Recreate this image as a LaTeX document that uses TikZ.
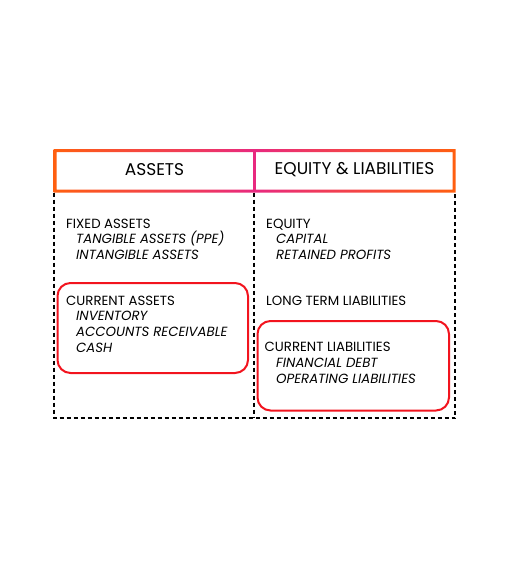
\documentclass[tikz,border=0pt]{standalone}
\usepackage{fontspec}
\setmainfont{Poppins}
\usetikzlibrary{positioning}
\definecolor{headorange}{HTML}{FF5F0F}
\definecolor{headpink}{HTML}{E8297F}
\definecolor{boxred}{HTML}{F2141E}
\tikzset{head text/.style={font=\fontsize{17}{19}\selectfont,inner sep=0pt}, }
\tikzset{group text/.style={font=\fontsize{13.3}{15}\selectfont,anchor=base west,inner sep=0pt,text height=8pt,text depth=2.5pt}, }
\tikzset{item text/.style={group text,font=\fontsize{13.3}{15}\selectfont\itshape}, }
\tikzset{sheet line/.style={draw,dashed,line width=1.4pt,dash pattern=on 4pt off 3pt}, }
\tikzset{hilite/.style={draw=boxred,line width=2pt,rounded corners=13pt}, }

\begin{document}
\begin{tikzpicture}[x=1pt,y=-1pt]
  \useasboundingbox (0,0) rectangle (510,578);
  % header frame, orange - pink - orange
  \shade[left color=headorange,right color=headorange,middle color=headpink,even odd rule]
    (53.5,149) rectangle (455.5,192.5) (56.5,152) rectangle (452.5,189.5);
  \fill[headpink] (252.5,150) rectangle (255.5,191);
  \node[head text] (1) at (154.5,170) {ASSETS};
  \node[head text] (2) at (354.5,170) {EQUITY \& LIABILITIES};
  % dashed body of the sheet
  \coordinate (tl) at (54,192.5);
  \coordinate (br) at (455,418);
  \path[sheet line] (tl) |- (br) -- (br |- tl);
  \path[sheet line] (254,192.5) -- (254,418);
  % highlighted groups
  \draw[hilite] (57.5,283) rectangle (248,373);
  \draw[hilite] (257.5,321) rectangle (449,410.5);
  % left column
  \node[group text] (3) at (66,228.3) {FIXED ASSETS};
  \node[item text] (4) [below right=4.5pt and 10pt of 3.south west] {TANGIBLE ASSETS (PPE)};
  \node[item text] (5) [below right=4.5pt and 0pt of 4.south west] {INTANGIBLE ASSETS};
  \node[group text] (6) at (66,305) {CURRENT ASSETS};
  \node[item text] (7) [below right=4.8pt and 10pt of 6.south west] {INVENTORY};
  \node[item text] (8) [below right=4.8pt and 0pt of 7.south west] {ACCOUNTS RECEIVABLE};
  \node[item text] (9) [below right=4.8pt and 0pt of 8.south west] {CASH};
  % right column
  \node[group text] (10) at (266,228.3) {EQUITY};
  \node[item text] (11) [below right=4.5pt and 10pt of 10.south west] {CAPITAL};
  \node[item text] (12) [below right=4.5pt and 0pt of 11.south west] {RETAINED PROFITS};
  \node[group text] (13) at (266,305) {LONG TERM LIABILITIES};
  \node[group text] (14) at (264.5,351.7) {CURRENT LIABILITIES};
  \node[item text] (15) [below right=4.8pt and 11.5pt of 14.south west] {FINANCIAL DEBT};
  \node[item text] (16) [below right=4.8pt and 0pt of 15.south west] {OPERATING LIABILITIES};
\end{tikzpicture}
\end{document}
